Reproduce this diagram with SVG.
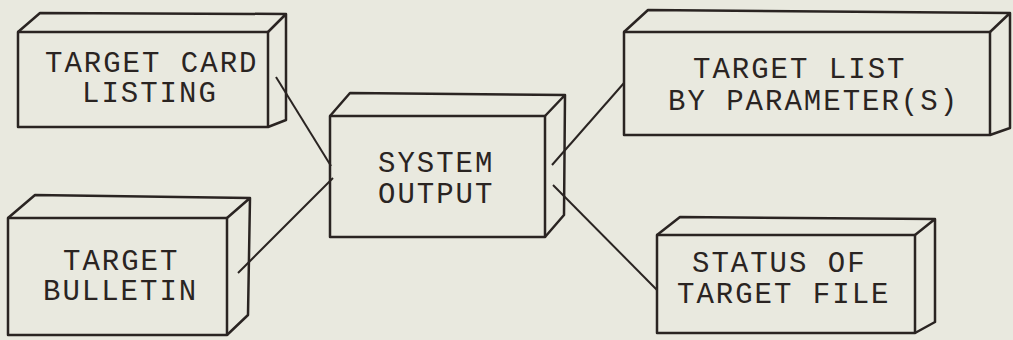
<svg xmlns="http://www.w3.org/2000/svg" width="1013" height="340" viewBox="0 0 1013 340">
<style>
.box{fill:none;stroke:#2a2422;stroke-width:2.5;stroke-linejoin:round}
.con{fill:none;stroke:#2a2422;stroke-width:2}
.t{font-family:"Liberation Mono","DejaVu Sans Mono",monospace;font-size:29px;fill:#2a2422;letter-spacing:2px}
</style>
<rect width="1013" height="340" fill="#e9e9df"/>
<g id="connectors">
<line class="con" x1="276" y1="77" x2="331" y2="166"/>
<line class="con" x1="238" y1="273" x2="333" y2="178"/>
<line class="con" x1="552" y1="165" x2="624" y2="83"/>
<line class="con" x1="553" y1="185" x2="657" y2="290"/>
</g>
<g id="target-card-listing">
<rect class="box" x="18" y="32" width="250" height="95"/>
<path class="box" d="M18,32 L40,13 L286,14 L268,32 M286,14 L286,120 L268,127"/>
<text class="t" x="45" y="72">TARGET CARD</text>
<text class="t" x="82" y="102">LISTING</text>
</g>
<g id="target-bulletin">
<rect class="box" x="8" y="218" width="219" height="117"/>
<path class="box" d="M8,218 L35,195 L250,198 L227,218 M250,198 L248,315 L227,335"/>
<text class="t" x="63" y="270">TARGET</text>
<text class="t" x="43" y="300">BULLETIN</text>
</g>
<g id="system-output">
<rect class="box" x="330" y="116" width="215" height="121"/>
<path class="box" d="M330,116 L350,93 L565,95 L545,116 M565,95 L564,215 L545,237"/>
<text class="t" x="378" y="172">SYSTEM</text>
<text class="t" x="378" y="203">OUTPUT</text>
</g>
<g id="target-list-by-parameters">
<rect class="box" x="624" y="32" width="366" height="103"/>
<path class="box" d="M624,32 L648,10 L1010,13 L990,32 M1010,13 L1010,128 L990,135"/>
<text class="t" x="693" y="78">TARGET LIST</text>
<text class="t" x="668" y="110">BY PARAMETER(S)</text>
</g>
<g id="status-of-target-file">
<rect class="box" x="657" y="235" width="258" height="98"/>
<path class="box" d="M657,235 L680,217 L935,219 L915,235 M935,219 L935,322 L915,333"/>
<text class="t" x="692" y="272">STATUS OF</text>
<text class="t" x="677" y="303">TARGET FILE</text>
</g>
</svg>
